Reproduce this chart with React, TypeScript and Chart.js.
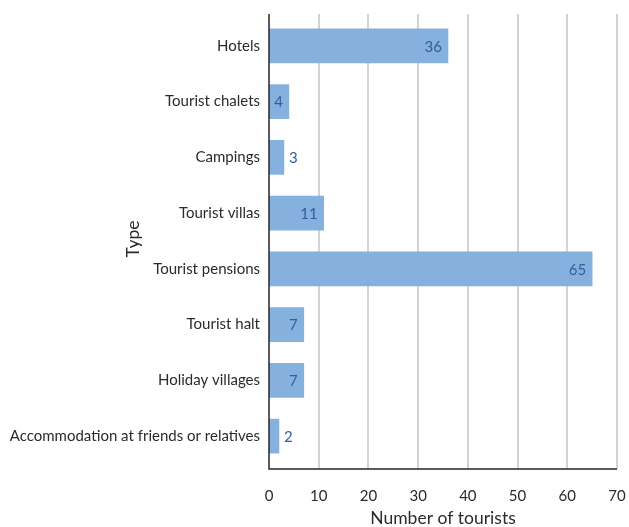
import { useEffect, useRef } from "react";
import { Chart, registerables } from "chart.js";

Chart.register(...registerables);

const categories = [
  "Hotels",
  "Tourist chalets",
  "Campings",
  "Tourist villas",
  "Tourist pensions",
  "Tourist halt",
  "Holiday villages",
  "Accommodation at friends or relatives",
];
const tourists = [36, 4, 3, 11, 65, 7, 7, 2];
const xMin = 0;
const xMax = 70;
const xStep = 10;
const xTitle = "Number of tourists";
const yTitle = "Type";

const FONT = "Lato, 'Open Sans', sans-serif";
const TEXT = "#2b2b2b";
const BAR = "#86b0de";
const LABEL = "#2f5f9f";
const GRID = "#c4c4c4";
const AXIS = "#262626";

// Vertical gridlines and axis lines, running a few pixels past the category bands.
const framePlugin = {
  id: "frame",
  beforeDatasetsDraw(chart: any) {
    const { ctx, chartArea, scales } = chart;
    const top = chartArea.top - 4;
    const bottom = chartArea.bottom + 5;
    ctx.save();
    ctx.strokeStyle = GRID;
    ctx.lineWidth = 1.5;
    for (const t of scales.x.ticks) {
      if (t.value === xMin) continue;
      const x = Math.round(scales.x.getPixelForValue(t.value));
      ctx.beginPath();
      ctx.moveTo(x, top);
      ctx.lineTo(x, bottom);
      ctx.stroke();
    }
    ctx.restore();
  },
  afterDatasetsDraw(chart: any) {
    const { ctx, chartArea, scales } = chart;
    const top = chartArea.top - 4;
    const bottom = chartArea.bottom + 5;
    const x0 = Math.round(scales.x.getPixelForValue(xMin));
    ctx.save();
    ctx.strokeStyle = AXIS;
    ctx.lineWidth = 1.5;
    ctx.beginPath();
    ctx.moveTo(x0, top);
    ctx.lineTo(x0, bottom);
    ctx.lineTo(Math.round(scales.x.getPixelForValue(xMax)), bottom);
    ctx.stroke();

    // value labels: inside the bar end when there is room, otherwise just past it
    ctx.font = `15px ${FONT}`;
    ctx.fillStyle = LABEL;
    ctx.textBaseline = "middle";
    const meta = chart.getDatasetMeta(0);
    meta.data.forEach((bar: any, i: number) => {
      const text = String(tourists[i]);
      const w = ctx.measureText(text).width;
      const len = bar.x - bar.base;
      if (len >= w + 10) {
        ctx.textAlign = "right";
        ctx.fillText(text, bar.x - 6, bar.y + 1);
      } else {
        ctx.textAlign = "left";
        ctx.fillText(text, bar.x + 5, bar.y + 1);
      }
    });

    // rotated y-axis title
    ctx.fillStyle = TEXT;
    ctx.font = `17.5px ${FONT}`;
    ctx.textAlign = "center";
    ctx.translate(133, (chartArea.top + chartArea.bottom) / 2 - 2);
    ctx.rotate(-Math.PI / 2);
    ctx.fillText(yTitle, 0, 0);
    ctx.restore();
  },
};

export default function App() {
  const ref = useRef<HTMLCanvasElement>(null);

  useEffect(() => {
    const canvas = ref.current;
    if (!canvas) return;
    const chart = new Chart(canvas, {
      type: "bar",
      data: {
        labels: categories,
        datasets: [
          {
            data: tourists,
            backgroundColor: BAR,
            borderWidth: 0,
            barThickness: 34,
          },
        ],
      },
      options: {
        indexAxis: "y",
        responsive: false,
        animation: false,
        layout: { padding: { top: 17, right: 12, left: 0, bottom: 0 } },
        plugins: {
          legend: { display: false },
          tooltip: { enabled: false },
        },
        scales: {
          x: {
            type: "linear",
            min: xMin,
            max: xMax,
            ticks: {
              stepSize: xStep,
              padding: 23,
              color: TEXT,
              font: { family: FONT, size: 15 },
            },
            grid: { display: false, drawTicks: false },
            border: { display: false },
            title: {
              display: true,
              text: xTitle,
              color: TEXT,
              font: { family: FONT, size: 17.5, lineHeight: 1 },
              padding: { top: 0, bottom: 0 },
            },
            afterFit(scale: any) {
              scale.height = 63;
              scale.paddingLeft = 0;
              scale.paddingRight = 0;
            },
          },
          y: {
            type: "category",
            ticks: {
              padding: 9,
              color: TEXT,
              font: { family: FONT, size: 15 },
              autoSkip: false,
            },
            grid: { display: false, drawTicks: false },
            border: { display: false },
            afterFit(scale: any) {
              scale.width = 269;
            },
          },
        },
      },
      plugins: [framePlugin],
    });
    return () => chart.destroy();
  }, []);

  return (
    <div style={{ position: "fixed", left: 0, top: 0, width: 629, height: 527, background: "#fff" }}>
      <canvas ref={ref} width={629} height={527} />
    </div>
  );
}
